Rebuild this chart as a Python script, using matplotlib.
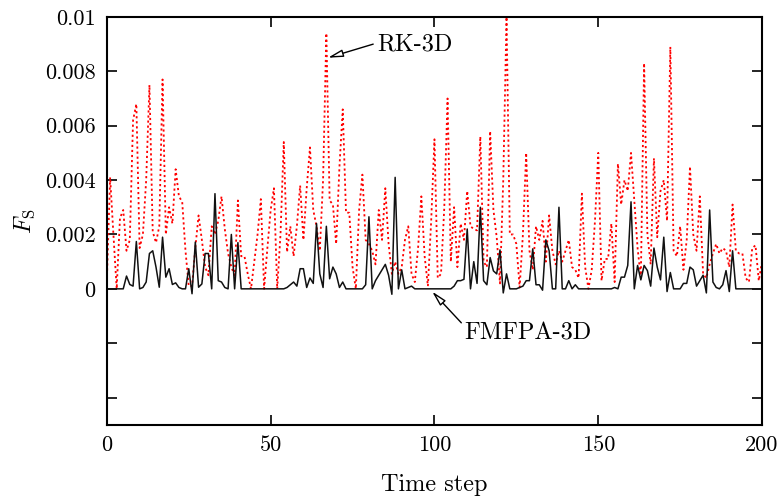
import matplotlib
matplotlib.use("Agg")
import matplotlib.pyplot as plt

# F_S per time step (units of 1e-3)
rk_3d = [
	0.3, 4.1, 2.0, 0.0, 2.6, 2.9, 1.4, 1.8, 6.2, 6.8,
	1.5, 2.0, 4.0, 7.5, 2.1, 1.7, 2.3, 7.7, 2.0, 3.0,
	2.4, 4.4, 3.4, 3.2, 1.4, 0.1, 0.1, 1.5, 2.7, 1.8,
	0.8, 0.5, 2.3, 2.0, 2.5, 3.4, 2.2, 1.3, 0.8, 0.5,
	3.25, 1.2, 1.2, 0.55, 0.0, 1.0, 2.0, 3.3, 0.0, 1.5,
	2.9, 3.7, 0.0, 2.0, 5.4, 1.35, 2.3, 1.2, 2.3, 3.8,
	1.8, 3.7, 5.2, 2.9, 2.3, 1.4, 4.0, 9.4, 3.25, 3.1,
	1.65, 4.5, 6.6, 2.8, 2.8, 0.8, 0.0, 2.9, 4.2, 1.8,
	1.65, 1.4, 0.9, 2.9, 1.8, 3.7, 1.65, 0.55, 1.0, 0.55,
	0.8, 1.8, 2.3, 0.55, 0.25, 1.5, 3.4, 1.2, 0.1, 2.5,
	5.5, 0.4, 0.55, 3.0, 7.0, 1.0, 3.0, 0.8, 2.4, 1.8,
	3.6, 2.3, 2.2, 2.15, 5.6, 1.0, 0.8, 5.8, 2.9, 1.9,
	0.2, 4.0, 10.0, 2.0, 2.0, 1.65, 0.05, 2.0, 5.0, 1.4,
	0.7, 2.3, 1.8, 2.5, 1.0, 2.7, 1.4, 0.9, 1.4, 1.0,
	1.4, 1.8, 0.8, 0.7, 0.4, 3.5, 0.8, 0.0, 0.7, 2.5,
	5.0, 0.3, 1.1, 1.1, 2.4, 0.25, 4.6, 3.1, 4.0, 3.6,
	5.0, 3.25, 1.5, 0.4, 8.3, 2.0, 0.9, 4.8, 1.9, 3.6,
	4.0, 2.5, 8.9, 1.4, 1.2, 2.3, 0.7, 1.8, 4.5, 2.0,
	1.4, 3.4, 0.55, 0.4, 0.9, 1.3, 1.65, 1.3, 1.5, 1.4,
	0.8, 3.1, 1.4, 1.3, 1.3, 0.4, 0.25, 1.5, 1.6, 0.3,
	1.0,
]
fmfpa_3d = [
	0, 0, 0, 0, 0, 0, 0.47, 0.16, 0.1, 1.74,
	0, 0.05, 0.25, 1.3, 1.4, 0.8, 0.06, 1.9, 0.43, 0.74,
	0.16, 0.22, 0.05, 0, 0, 0.74, -0.18, 1.72, 0.06, 0.18,
	1.3, 1.3, 0, 3.5, 0.3, 0.25, 0.05, 0, 2.0, 0,
	1.7, 0, 0, 0, 0, 0, 0, 0, 0, 0,
	0, 0, 0, 0, 0, 0.05, 0.15, 0.25, 0.1, 0.74,
	0.74, 0.05, 0.4, 0.2, 2.4, 0.55, 0.05, 2.3, 0.37, 0.8,
	0.55, 0.05, 0.25, 0, 0, 0, 0, 0, 0, 0.15,
	2.65, 0, 0.3, 0.5, 0.7, 0.9, 0.5, -0.2, 4.1, 0,
	0.7, 0, 0.05, 0.1, 0, 0, 0, 0, 0, 0,
	0, 0, 0, 0, 0, 0, 0.1, 0.3, 0.3, 0.35,
	2.2, 0, 1.0, 0.2, 3.0, 0.3, 0.15, 1.15, 0.66, 0.55,
	1.43, -0.15, 0.55, 0, 0, 0, 0.05, 0.1, 0.3, 0.3,
	1.47, 0.15, 0.15, -0.05, 1.8, 1.4, 0, 0, 3.0, 0,
	0, 0.3, 0, 0.15, 0, 0, 0, 0, 0, 0,
	0, 0, 0, 0, 0, 0.05, 0, 0.43, 0.43, 0.86,
	3.2, 0, 0.86, 0.33, 0.86, 0.67, 0.1, 1.5, 0.8, 0.33,
	1.9, -0.1, 0.6, 0, 0, 0, 0.2, 0.2, 0.8, 0.7,
	0.1, 0.3, 0.5, -0.15, 2.9, 0.25, 0.05, 0, 0.15, 0.67,
	-0.1, 1.4, 0, 0, 0, 0, 0, 0, 0, 0,
	0,
]
steps = list(range(len(rk_3d)))

y_ticks = [-0.004, -0.002, 0, 0.002, 0.004, 0.006, 0.008, 0.01]
y_tick_labels = ["", "", "0", "0.002", "0.004", "0.006", "0.008", "0.01"]
x_ticks = [0, 50, 100, 150, 200]

plt.rcParams["font.family"] = ["cmr10", "DejaVu Serif"]
plt.rcParams["mathtext.fontset"] = "cm"

fig = plt.figure(figsize=(7.8, 4.98), dpi=100)
ax = fig.add_axes([0.137, 0.147, 0.840, 0.819])

ax.plot(steps, [v * 1e-3 for v in rk_3d], color="red", linestyle=(0, (1.2, 1.6)), lw=1.3)
ax.plot(steps, [v * 1e-3 for v in fmfpa_3d], color="#111111", lw=1.1)

ax.set_xlim(0, 200)
ax.set_ylim(-0.005, 0.01)
ax.set_xticks(x_ticks)
ax.set_xticklabels([str(t) for t in x_ticks])
ax.set_yticks(y_ticks)
ax.set_yticklabels(y_tick_labels)
ax.tick_params(direction="in", length=7, width=1.2, top=True, right=True,
	labelsize=16, pad=8)
for s in ax.spines.values():
	s.set_linewidth(1.5)

ax.set_xlabel("Time step", fontsize=17.5, labelpad=13)
ax.set_ylabel(r"$F_{\mathrm{S}}$", fontsize=17, labelpad=6)

# open arrowheads drawn separately so the shaft ends where the reference has it
arrow = dict(arrowstyle="-|>,head_length=0.9,head_width=0.22", fc="white", ec="black",
	lw=1.0, shrinkA=0, shrinkB=0)
ax.annotate("", xy=(67.5, 0.0085), xytext=(81.3, 0.0090), arrowprops=arrow)
ax.text(82.5, 0.0090, "RK-3D", fontsize=17.5, va="center", ha="left")
ax.annotate("", xy=(99.3, -0.0001), xytext=(108.2, -0.00125), arrowprops=arrow)
ax.text(109.2, -0.00165, "FMFPA-3D", fontsize=17.5, va="center", ha="left")

fig.savefig("out.png", dpi=100)
